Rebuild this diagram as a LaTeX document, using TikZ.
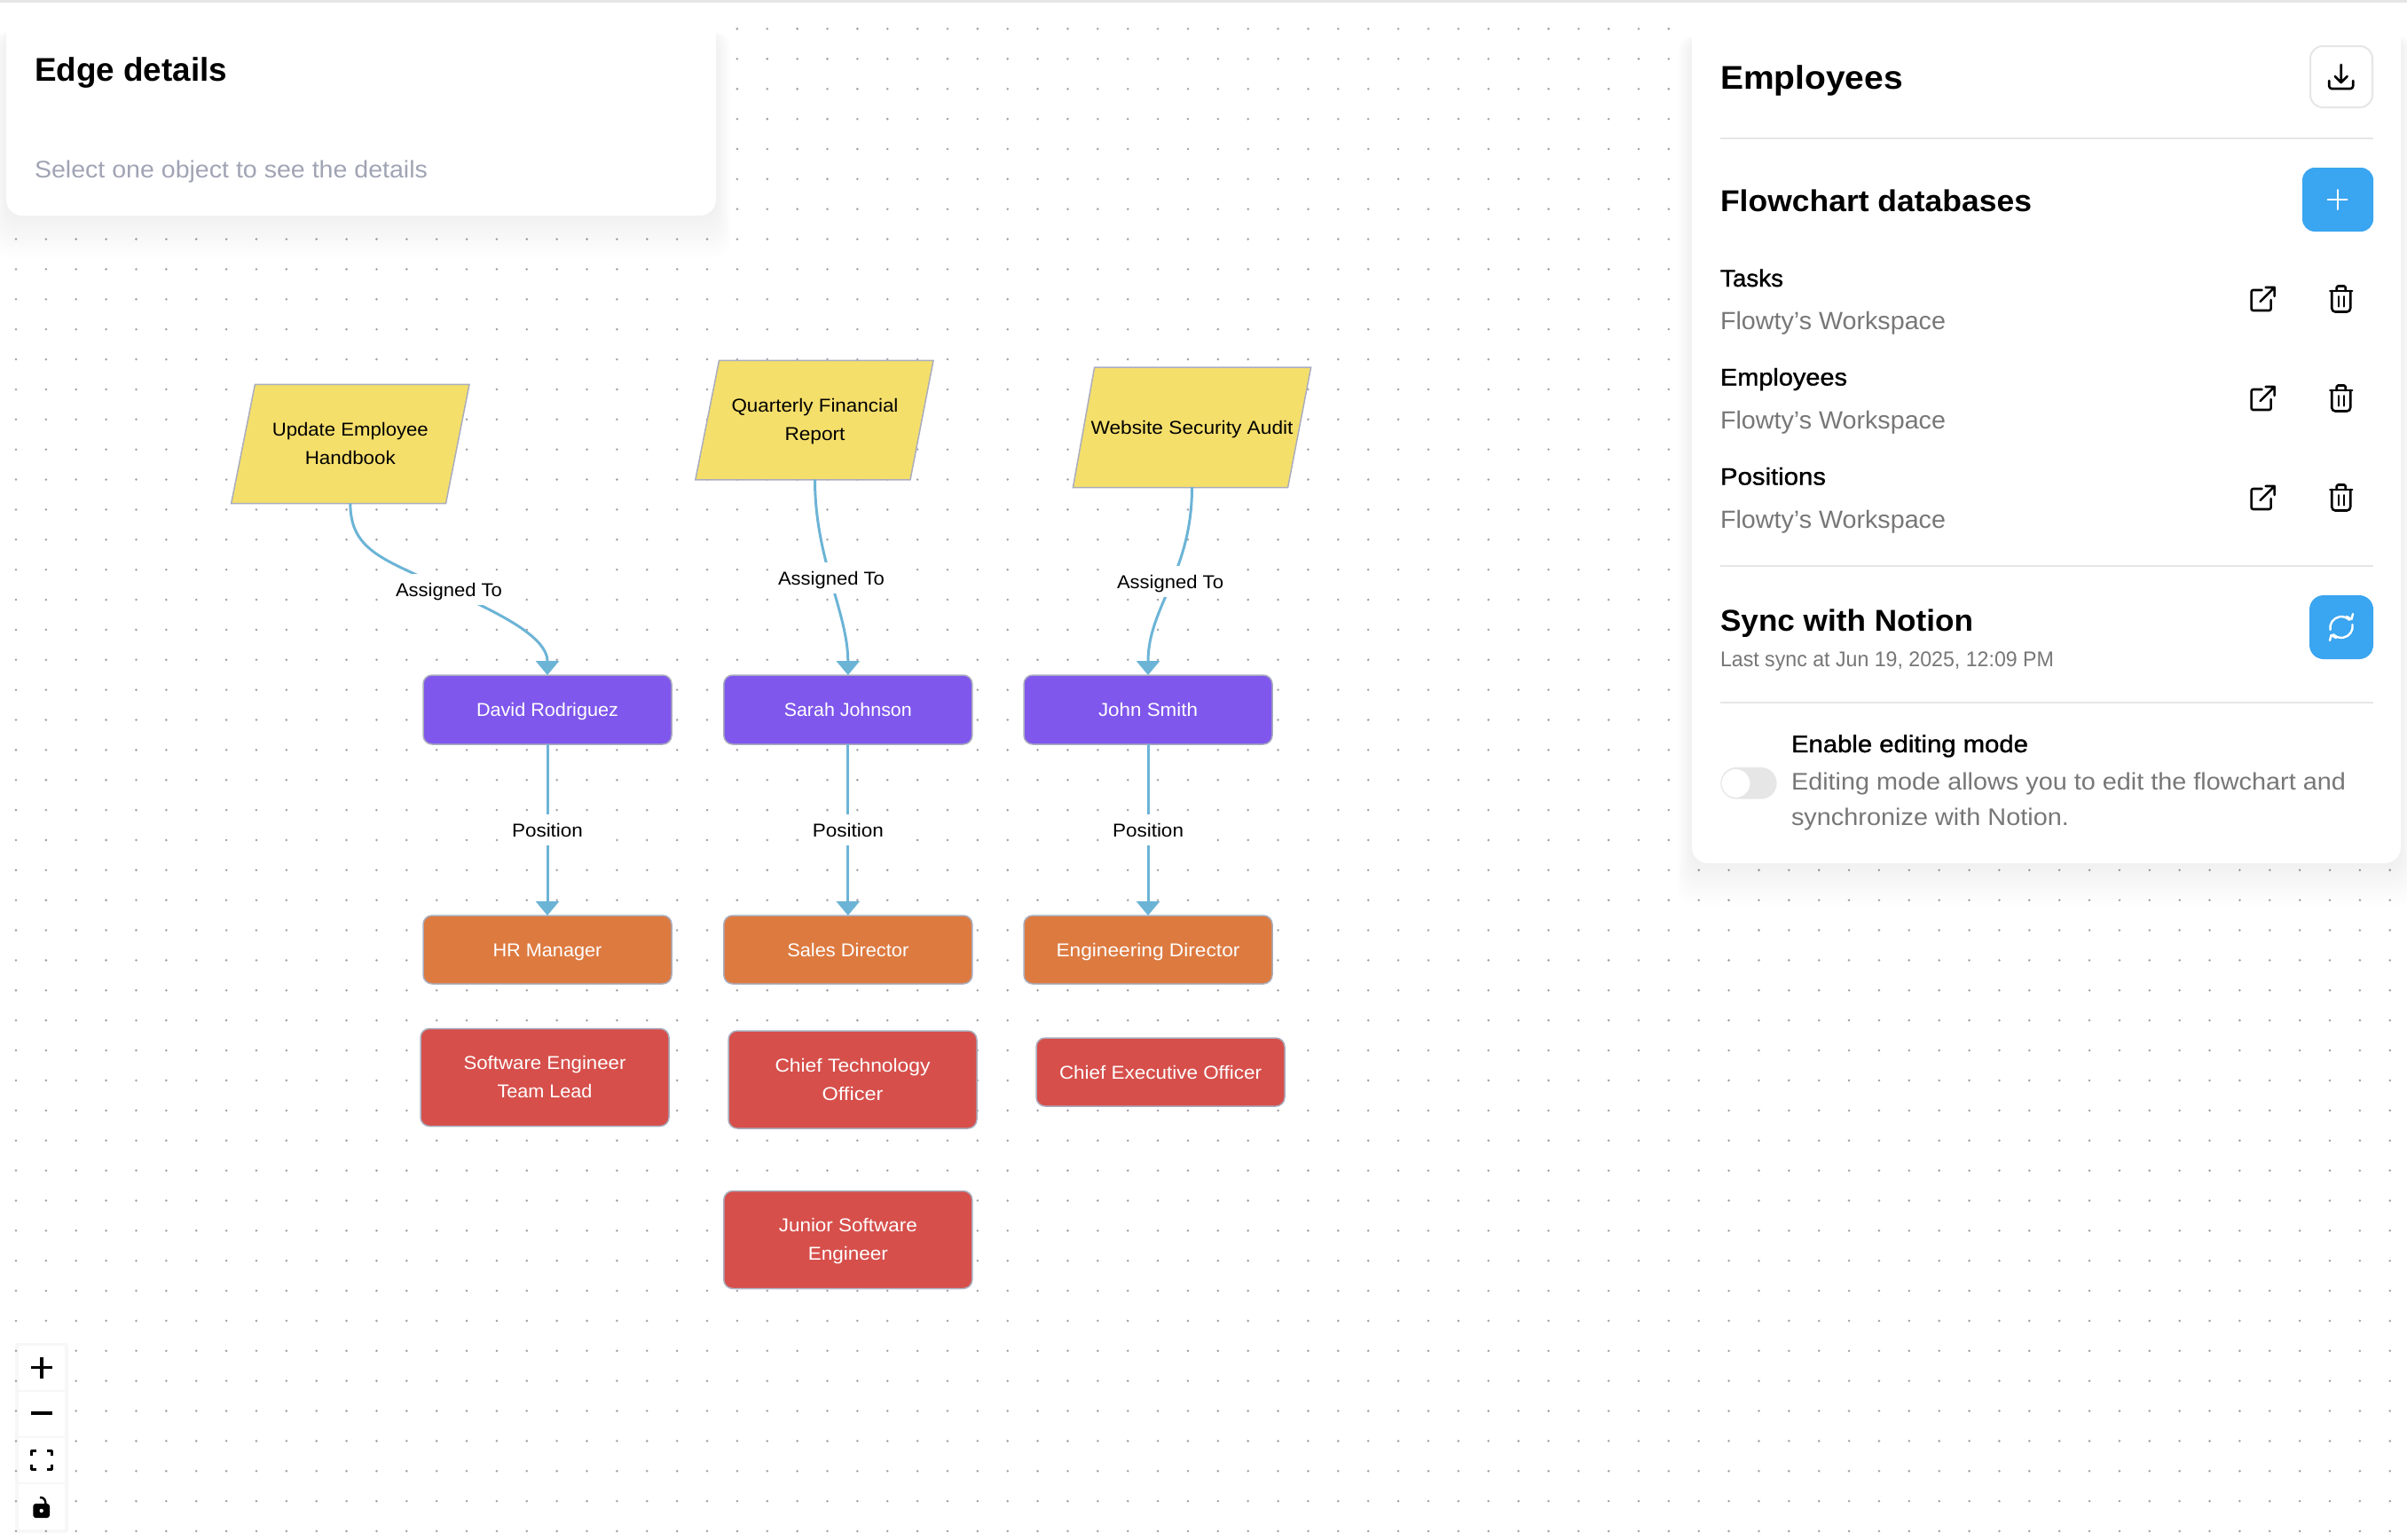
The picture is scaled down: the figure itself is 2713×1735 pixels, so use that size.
\documentclass[tikz,border=0pt]{standalone}
\usepackage{fontspec}
\usepackage{graphicx}
\usetikzlibrary{arrows.meta,calc}
\setmainfont{Liberation Sans}
\newfontfamily\medfont[FakeBold=1.2]{Liberation Sans}
\newcommand\fw[2]{\resizebox{#1pt}{\height}{#2}}
% single line, centred on the capitals
\newcommand\ol[2]{\resizebox{#1pt}{\height}{\rule[-10pt]{0pt}{35pt}#2}}
% line of a two-line node
\newcommand\fm[2]{\resizebox{#1pt}{\height}{\rule[-9pt]{0pt}{32pt}#2}}
\newcommand\fsz[2]{\fontsize{#1}{#2}\selectfont}
\definecolor{dotc}{HTML}{A0A0A8}
\definecolor{edgec}{HTML}{6CB4D6}
\definecolor{purp}{HTML}{7F57EC}
\definecolor{oran}{HTML}{DD7A40}
\definecolor{redb}{HTML}{D64F4B}
\definecolor{yell}{HTML}{F5DF6B}
\definecolor{bord}{HTML}{A9ADBD}
\definecolor{divc}{HTML}{E6E6E6}
\definecolor{blueb}{HTML}{3AA5F0}
\definecolor{greyt}{HTML}{777777}
\definecolor{hint}{HTML}{A0A4B4}
\tikzset{
  flowbox/.style={draw=bord,line width=1.5pt,rounded corners=10pt,text=white,minimum width=280pt,align=center,inner sep=0pt,outer sep=0pt,font=\fsz{21}{32}},
  purpbox/.style={flowbox,fill=purp,minimum height=78pt},
  oranbox/.style={flowbox,fill=oran,minimum height=77pt},
  redbox/.style={flowbox,fill=redb,minimum height=110pt},
  partext/.style={text=black,align=center,inner sep=0pt,outer sep=0pt,minimum width=242pt,font=\fsz{21}{32}},
  parshape/.style={draw=bord,line width=1.5pt,fill=yell,line join=miter},
  conn/.style={draw=edgec,line width=3pt,-{Triangle[width=26pt,length=16pt]}},
  edgelabel/.style={fill=white,text=black,inner sep=0pt,outer sep=0pt,minimum height=33pt,font=\fsz{21}{26}},
  lefttext/.style={anchor=base west,inner sep=0pt,outer sep=0pt},
  panelfill/.style={fill=white,rounded corners=18pt},
  icon/.style={draw=black,line width=2.6pt,line cap=round,line join=round,rounded corners=2pt},
  wicon/.style={draw=white,line width=2.4pt,line cap=round,line join=round},
  ctrl/.style={fill=white,minimum width=52pt,inner sep=0pt,outer sep=0pt},
  divider/.style={draw=divc,line width=2.5pt},
}
\newcommand\softshadow[4]{%
  \foreach \k in {1,...,14}{%
    \fill[black,opacity=0.0055,rounded corners=18pt]
      ({#1-\k*1.2},{#2+16}) rectangle ({#3+\k*1.2},{#4+\k*3.4});}}
\newcommand\extlink[2]{\begin{scope}[shift={(#1,#2)}]
  \draw[icon] (-1,-10) -- (-13,-10) -- (-13,13) -- (9,13) -- (9,1);
  \draw[icon,rounded corners=0pt] (-3,3) -- (13,-13) (3,-13) -- (13,-13) -- (13,-3);
\end{scope}}
\newcommand\trashicon[2]{\begin{scope}[shift={(#1,#2)}]
  \draw[icon,rounded corners=0pt] (-12.5,-9) -- (12.5,-9);
  \draw[icon,rounded corners=1.5pt] (-5,-9) -- (-5,-14.5) -- (5,-14.5) -- (5,-9);
  \draw[icon,rounded corners=4pt] (-10.5,-9) -- (-10.5,14.5) -- (10.5,14.5) -- (10.5,-9);
  \draw[icon,line width=2pt,rounded corners=0pt] (-3.2,-3) -- (-3.2,8.5) (3.2,-3) -- (3.2,8.5);
\end{scope}}
\begin{document}
\begin{tikzpicture}[x=1pt,y=-1pt]
\useasboundingbox (0,0) rectangle (2713,1735);
\fill[white] (0,0) rectangle (2713,1735);
% dotted canvas
\foreach \i in {0,...,80}{\foreach \j in {0,...,50}{\fill[dotc] ({18+\i*33.87},{32.5+\j*33.87}) circle (1.4);}}
\fill[divc] (0,0) rectangle (2713,3);

% parallelogram tasks
\draw[parshape] (287.4,433.3) -- (529,433.3) -- (502.5,567.7) -- (260.6,567.7) -- cycle;
\draw[parshape] (810.5,406.4) -- (1052,406.4) -- (1026,540.8) -- (783.8,540.8) -- cycle;
\draw[parshape] (1233.6,414) -- (1477.6,414) -- (1451.6,549.5) -- (1209.4,549.5) -- cycle;
\node[partext,minimum height=134pt] (p1) at (394.8,500.5) {\fm{176}{Update Employee}\\\fm{102}{Handbook}};
\node[partext,minimum height=134pt] (p2) at (918.5,473.6) {\fm{188}{Quarterly Financial}\\\fm{68}{Report}};
\node[partext,minimum height=135pt] (p3) at (1343.5,481.7) {\ol{228}{Website Security Audit}};

% people
\node[purpbox] (david) at (617,800) {\ol{160}{David Rodriguez}};
\node[purpbox] (sarah) at (955.8,800) {\ol{144}{Sarah Johnson}};
\node[purpbox] (john) at (1294,800) {\ol{112}{John Smith}};
% positions
\node[oranbox] (hr) at (617,1070.5) {\ol{123}{HR Manager}};
\node[oranbox] (sales) at (955.8,1070.5) {\ol{137}{Sales Director}};
\node[oranbox] (eng) at (1294,1070.5) {\ol{207}{Engineering Director}};
% other positions
\node[redbox] (swe) at (614,1214.5) {\fm{183}{Software Engineer}\\\fm{107}{Team Lead}};
\node[redbox] (cto) at (961,1217) {\fm{175}{Chief Technology}\\\fm{69}{Officer}};
\node[flowbox,fill=redb,minimum height=77pt] (ceo) at (1308,1208.5) {\ol{228}{Chief Executive Officer}};
\node[redbox] (jse) at (955.8,1397.5) {\fm{156}{Junior Software}\\\fm{90}{Engineer}};

% connectors
\coordinate (m1) at (506,665);
\draw[conn] (p1.south) .. controls (395,623) and (436,631) .. (m1) .. controls (551,687) and (617,715) .. (david.north);
\draw[conn] (p2.south) .. controls ($(p2.south)+(0,90)$) and ($(sarah.north)+(0,-70)$) .. (sarah.north);
\draw[conn] (p3.south) .. controls ($(p3.south)+(0,97)$) and ($(john.north)+(0,-77)$) .. (john.north);
\draw[conn] (david) -- (hr);
\draw[conn] (sarah) -- (sales);
\draw[conn] (john) -- (eng);
% edge labels
\node[edgelabel,minimum width=136pt] (la1) at (506,664.5) {\ol{120}{Assigned To}};
\node[edgelabel,minimum width=136pt] (la2) at (937,651.5) {\ol{120}{Assigned To}};
\node[edgelabel,minimum width=136pt] (la3) at (1319,655.5) {\ol{120}{Assigned To}};
\node[edgelabel,minimum width=96pt] (lp1) at (617,935.5) {\ol{80}{Position}};
\node[edgelabel,minimum width=96pt] (lp2) at (955.8,935.5) {\ol{80}{Position}};
\node[edgelabel,minimum width=96pt] (lp3) at (1294,935.5) {\ol{80}{Position}};

% left panel
\softshadow{7}{20}{807}{243}
\fill[panelfill] (7,20) rectangle (807,243);
\node[lefttext] (edgetitle) at (39,91.7) {\bfseries\fsz{37}{44}\fw{217}{Edge details}};
\node[lefttext,text=hint] (edgehint) at (39,200) {\fsz{27}{32}\fw{443}{Select one object to see the details}};

% right panel
\softshadow{1907}{25}{2706}{973}
\fill[panelfill] (1907,25) rectangle (2706,973);
\node[lefttext] (ptitle) at (1939,100) {\bfseries\fsz{37}{44}\fw{206}{Employees}};
\draw[fill=white,draw=divc,line width=2pt,rounded corners=14pt] (2604,52) rectangle (2674,121);
\begin{scope}[shift={(2638.7,87)}]
  \draw[icon,rounded corners=0pt] (0,-14) -- (0,6) (-7,-1) -- (0,6) -- (7,-1);
  \draw[icon,rounded corners=3pt] (-13.5,4) -- (-13.5,13) -- (13.5,13) -- (13.5,4);
\end{scope}
\coordinate (d1a) at (1939,156);
\coordinate (d1b) at (2675,156);
\draw[divider] (d1a) -- (d1b);
\node[lefttext] (dbtitle) at (1939,238) {\bfseries\fsz{34}{41}\fw{351}{Flowchart databases}};
\fill[blueb,rounded corners=14pt] (2595,189) rectangle (2675,261);
\draw[wicon,line width=2pt] (2634.7,214) -- (2634.7,236) (2623.7,225) -- (2645.7,225);

\node[lefttext] (db1) at (1939,323) {\medfont\fsz{27}{32}\fw{71}{Tasks}};
\node[lefttext,text=greyt] (ws1) at (1939,371) {\fsz{28}{34}\fw{254}{Flowty’s Workspace}};
\node[lefttext] (db2) at (1939,434.5) {\medfont\fsz{27}{32}\fw{143}{Employees}};
\node[lefttext,text=greyt] (ws2) at (1939,483) {\fsz{28}{34}\fw{254}{Flowty’s Workspace}};
\node[lefttext] (db3) at (1939,546.5) {\medfont\fsz{27}{32}\fw{119}{Positions}};
\node[lefttext,text=greyt] (ws3) at (1939,595) {\fsz{28}{34}\fw{254}{Flowty’s Workspace}};
\extlink{2550.6}{337}\trashicon{2638.7}{337}
\extlink{2550.6}{449}\trashicon{2638.7}{449}
\extlink{2550.6}{561}\trashicon{2638.7}{561}

\coordinate (d2a) at (1939,638);
\coordinate (d2b) at (2675,638);
\draw[divider] (d2a) -- (d2b);
\node[lefttext] (synct) at (1939,711) {\bfseries\fsz{34}{41}\fw{285}{Sync with Notion}};
\node[lefttext,text=greyt] (syncd) at (1939,751) {\fsz{24}{29}\fw{376}{Last sync at Jun 19, 2025, 12:09 PM}};
\fill[blueb,rounded corners=16pt] (2603,671) rectangle (2675,743);
\begin{scope}[shift={(2639,707)}]
  \draw[wicon] (-12.5,3) arc[start angle=170,end angle=315,radius=12.7];
  \draw[wicon] (12.5,-3) arc[start angle=-10,end angle=135,radius=12.7];
  \draw[wicon] (6,-12) -- (11.5,-9) -- (13,-15);
  \draw[wicon] (-6,12) -- (-11.5,9) -- (-13,15);
\end{scope}
\coordinate (d3a) at (1939,792);
\coordinate (d3b) at (2675,792);
\draw[divider] (d3a) -- (d3b);
\node[lefttext] (edt) at (2019,848) {\medfont\fsz{27}{32}\fw{267}{Enable editing mode}};
\node[lefttext,text=greyt] (edd1) at (2019,890.7) {\fsz{27}{32}\fw{625}{Editing mode allows you to edit the flowchart and}};
\node[lefttext,text=greyt] (edd2) at (2019,930.7) {\fsz{27}{32}\fw{313}{synchronize with Notion.}};
\fill[divc,rounded corners=17.8pt] (1939.5,865) rectangle (2002.6,900.7);
\draw[fill=white,draw=divc,line width=1pt] (1956.5,883) circle (16.5);

% zoom controls
\fill[black,opacity=0.03,rounded corners=3pt] (17,1514) rectangle (77,1728);
\node[ctrl,minimum height=50pt] (cplus) at (47,1541.7) {};
\node[ctrl,minimum height=50pt] (cminus) at (47,1593.8) {};
\node[ctrl,minimum height=50pt] (cfit) at (47,1646) {};
\node[ctrl,minimum height=51pt] (clock) at (47,1698.5) {};
\draw[black,line width=3.5pt] (47,1530) -- (47,1554) (35,1541.7) -- (59,1541.7);
\draw[black,line width=4pt] (35,1593) -- (59,1593);
\begin{scope}[shift={(47,1645.8)},line width=3pt,line join=round]
  \draw (-6,-10.5) -- (-11.5,-10.5) -- (-11.5,-5);
  \draw (6,-10.5) -- (11.5,-10.5) -- (11.5,-5);
  \draw (-11.5,5) -- (-11.5,10.5) -- (-6,10.5);
  \draw (11.5,5) -- (11.5,10.5) -- (6,10.5);
\end{scope}
\fill[black,rounded corners=3pt] (37.3,1695) rectangle (56,1711);
\draw[black,line width=2.4pt] (45,1688) .. controls (50,1688) and (51.5,1691) .. (51.5,1696);
\fill[white] (46.7,1703) circle (2.2);
\end{tikzpicture}
\end{document}
